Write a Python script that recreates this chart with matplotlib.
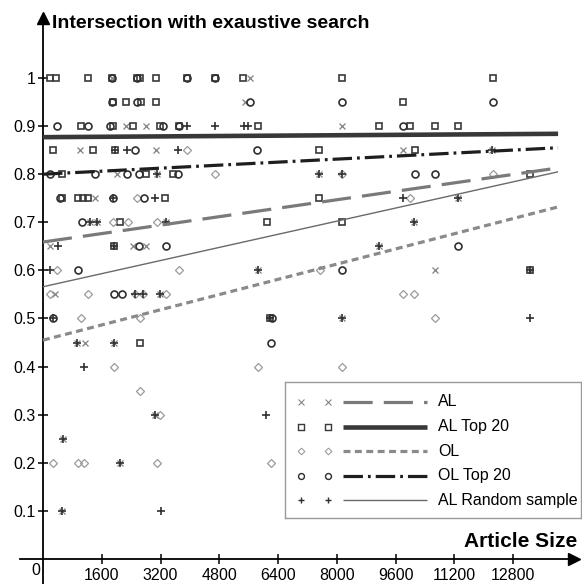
import matplotlib
matplotlib.use("Agg")
import matplotlib.pyplot as plt

plt.rcParams['lines.scale_dashes'] = False
plt.rcParams['font.family'] = ['Liberation Sans', 'DejaVu Sans']

# ---------------- data ----------------
al_x = [5640, 5500, 2260, 2800, 8140, 1010, 3080, 9800, 12230, 2020, 3100, 7520, 1420, 11300,
        1280, 1470, 3350, 10100, 190, 1930, 2450, 2800, 9150, 5850, 10670, 13260, 330, 3190,
        6180, 8140, 930, 1140, 1930, 3050, 540, 2100, 520, 1880]
al_y = [1.0, 0.95, 0.9, 0.9, 0.9, 0.85, 0.85, 0.85, 0.85, 0.8, 0.8, 0.8, 0.75, 0.75,
        0.7, 0.7, 0.7, 0.7, 0.65, 0.65, 0.65, 0.65, 0.65, 0.6, 0.6, 0.6, 0.55, 0.55,
        0.5, 0.5, 0.45, 0.45, 0.45, 0.3, 0.25, 0.2, 0.1, 1.0]

top_x = [190, 350, 1230, 1880, 2560, 2640, 3080, 3920, 4680, 5450, 8140, 12250,
         1910, 2260, 2670, 3080, 9800,
         1030, 1910, 2450, 3190, 3700, 5850, 9150, 9990, 10670, 11300,
         270, 1360, 1960, 7520, 10130,
         520, 2800, 3540, 13260,
         520, 950, 1090, 1230, 3320, 7520,
         2100, 6100, 8140,
         1930, 13260, 6180, 2640]
top_y = [1.0, 1.0, 1.0, 1.0, 1.0, 1.0, 1.0, 1.0, 1.0, 1.0, 1.0, 1.0,
         0.95, 0.95, 0.95, 0.95, 0.95,
         0.9, 0.9, 0.9, 0.9, 0.9, 0.9, 0.9, 0.9, 0.9, 0.9,
         0.85, 0.85, 0.85, 0.85, 0.85,
         0.8, 0.8, 0.8, 0.8,
         0.75, 0.75, 0.75, 0.75, 0.75, 0.75,
         0.7, 0.7, 0.7,
         0.65, 0.6, 0.5, 0.45]

ol_x = [3920, 4680, 8140, 12250, 2560, 9990, 1910, 2310, 3100, 380, 3700, 7540,
        190, 1230, 2510, 2720, 3350, 9800, 10100, 1030, 2640, 10670, 1930, 5850, 8140,
        2640, 3190, 270, 950, 1120, 3100, 6210]
ol_y = [0.85, 0.8, 0.8, 0.8, 0.75, 0.75, 0.7, 0.7, 0.7, 0.6, 0.6, 0.6,
        0.55, 0.55, 0.55, 0.55, 0.55, 0.55, 0.55, 0.5, 0.5, 0.5, 0.4, 0.4, 0.4,
        0.35, 0.3, 0.2, 0.2, 0.2, 0.2, 0.2]

oltop_x = [1880, 2560, 3920, 4680,
           1880, 2560, 5640, 8140, 12250,
           380, 1230, 1820, 3270, 3700, 9800,
           2510, 5830,
           190, 1420, 2290, 2610, 3680, 10130, 10670,
           460, 1910, 2750,
           1060,
           2610, 3350, 11300,
           950, 8140,
           1930, 2150,
           270, 6240,
           6210]
oltop_y = [1.0, 1.0, 1.0, 1.0,
           0.95, 0.95, 0.95, 0.95, 0.95,
           0.9, 0.9, 0.9, 0.9, 0.9, 0.9,
           0.85, 0.85,
           0.8, 0.8, 0.8, 0.8, 0.8, 0.8, 0.8,
           0.75, 0.75, 0.75,
           0.7,
           0.65, 0.65, 0.65,
           0.6, 0.6,
           0.55, 0.55,
           0.5, 0.5,
           0.45]

rnd_x = [3920, 4680, 5470, 5580, 1960, 2290, 3680, 12230, 3100, 7520, 8140, 3050, 9800,
         11300, 1910, 1280, 1470, 3350, 10100, 410, 1930, 9150, 190, 5850, 13260, 2510,
         2720, 3190, 270, 6180, 8140, 13260, 930, 1930, 1120, 3050, 6070, 540, 2100, 520, 3210]
rnd_y = [0.9, 0.9, 0.9, 0.9, 0.85, 0.85, 0.85, 0.85, 0.8, 0.8, 0.8, 0.75, 0.75,
         0.75, 0.75, 0.7, 0.7, 0.7, 0.7, 0.65, 0.65, 0.65, 0.6, 0.6, 0.6, 0.55,
         0.55, 0.55, 0.5, 0.5, 0.5, 0.5, 0.45, 0.45, 0.4, 0.3, 0.3, 0.25, 0.2, 0.1, 0.1]

series_names = ["AL", "AL Top 20", "OL", "OL Top 20", "AL Random sample"]
trend_x = [0, 14025]
trend_al = [0.659, 0.813]
trend_top = [0.877, 0.884]
trend_ol = [0.455, 0.732]
trend_oltop = [0.800, 0.855]
trend_rnd = [0.566, 0.805]

x_ticks = [1600, 3200, 4800, 6400, 8000, 9600, 11200, 12800]
y_ticks = [0.1, 0.2, 0.3, 0.4, 0.5, 0.6, 0.7, 0.8, 0.9, 1.0]
y_tick_labels = ["0.1", "0.2", "0.3", "0.4", "0.5", "0.6", "0.7", "0.8", "0.9", "1"]

# ---------------- styles ----------------
W, H = 582, 584
fig = plt.figure(figsize=(W / 100, H / 100), dpi=100)
fig.patch.set_facecolor('white')

ax = fig.add_axes([20 / W, 0, 560 / W, 574 / H])
ax.set_xlim(-626, 14622)
ax.set_ylim(-0.052, 1.1414)
ax.set_facecolor('none')

styles = [
    dict(marker='x', color='#808080', ms=5.0, mew=0.9),
    dict(marker='s', color='#3a3a3a', ms=4.6, mew=1.2),
    dict(marker='D', color='#9a9a9a', ms=4.0, mew=0.9),
    dict(marker='o', color='#303030', ms=5.0, mew=1.2),
    dict(marker='+', color='#303030', ms=5.5, mew=1.2),
]
line_styles = [
    dict(color='#7a7a7a', lw=2.3, dashes=(21, 8)),
    dict(color='#383838', lw=3.3, ls='-'),
    dict(color='#8a8a8a', lw=2.3, dashes=(5, 3.2)),
    dict(color='#1e1e1e', lw=2.3, dashes=(14, 3.6, 2, 3.6)),
    dict(color='#6a6a6a', lw=1.0, ls='-'),
]
pts = [(al_x, al_y), (top_x, top_y), (ol_x, ol_y), (oltop_x, oltop_y), (rnd_x, rnd_y)]
trends = [trend_al, trend_top, trend_ol, trend_oltop, trend_rnd]

for (xs, ys), st in zip(pts, styles):
    ax.plot(xs, ys, ls='none', marker=st['marker'], ms=st['ms'], mew=st['mew'],
            mec=st['color'], mfc='none', color=st['color'], zorder=2)

for tr, ls in zip(trends, line_styles):
    kw = dict(ls)
    ln, = ax.plot(trend_x, tr, color=kw.pop('color'), lw=kw.pop('lw'),
                  solid_capstyle='butt', dash_capstyle='butt', zorder=3)
    if 'dashes' in kw:
        ln.set_dashes(kw['dashes'])

# axes as arrows
for s in ['top', 'right']:
    ax.spines[s].set_visible(False)
ax.spines['left'].set_position(('data', 0))
ax.spines['bottom'].set_position(('data', 0))
ax.spines['left'].set_linewidth(1.3)
ax.spines['bottom'].set_linewidth(1.3)
ax.spines['bottom'].set_bounds(-626, 14459)
ax.spines['left'].set_bounds(-0.052, 1.12)
ax.plot([0], [1.124], marker='^', ms=9, color='black', clip_on=False, zorder=5)
ax.plot([14459], [0], marker='>', ms=9, color='black', clip_on=False, zorder=5)

ax.set_xticks(x_ticks)
ax.set_xticklabels([str(v) for v in x_ticks])
ax.set_yticks(y_ticks)
ax.set_yticklabels(y_tick_labels)
ax.tick_params(axis='both', direction='inout', length=7, width=1.1, labelsize=11.5,
               colors='black')
ax.tick_params(axis='y', pad=2)
ax.tick_params(axis='x', pad=3)
ax.text(-82, -0.008, "0", ha='right', va='top', fontsize=11.5)

fig.text(52 / W, (H - 28) / H, "Intersection with exaustive search", fontsize=14,
         fontweight='bold', ha='left', va='baseline')
fig.text(577 / W, (H - 547) / H, "Article Size", fontsize=15, fontweight='bold',
         ha='right', va='baseline')

# ---------------- legend box ----------------
lg = fig.add_axes([285 / W, (H - 518) / H, 296 / W, 136 / H])
lg.set_xlim(285, 581)
lg.set_ylim(518, 382)
lg.set_xticks([])
lg.set_yticks([])
lg.set_facecolor('white')
for s in lg.spines.values():
    s.set_color('#9a9a9a')
    s.set_linewidth(1.0)
row_y = [402, 426.5, 451, 475.5, 500]
for name, st, ls, ry in zip(series_names, styles, line_styles, row_y):
    lg.plot([301, 328], [ry, ry], ls='none', marker=st['marker'], ms=st['ms'] * 0.85,
            mew=st['mew'] * 0.85, mec=st['color'], mfc='none')
    kw = dict(ls)
    ln, = lg.plot([343, 427], [ry, ry], color=kw.pop('color'), lw=kw.pop('lw'),
                  solid_capstyle='butt', dash_capstyle='butt')
    if 'dashes' in kw:
        ln.set_dashes(kw['dashes'])
    lg.text(438, ry, name, ha='left', va='center', fontsize=11.5)

fig.savefig("out.png", dpi=100)
